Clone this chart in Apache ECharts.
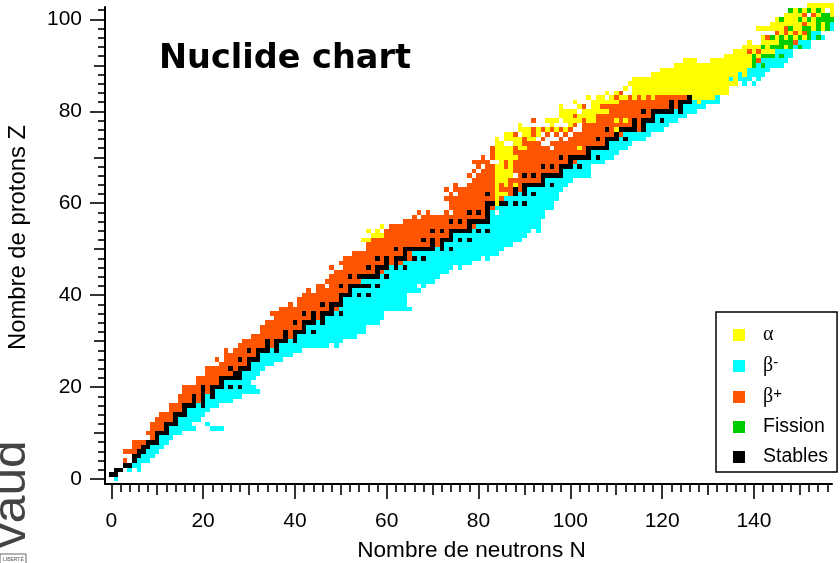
<!DOCTYPE html>
<html><head><meta charset="utf-8">
<style>html,body{margin:0;padding:0;background:#fff}#c{width:840px;height:563px}</style>
<script src="https://cdn.jsdelivr.net/npm/echarts@6/dist/echarts.min.js"></script>
</head><body><div id="c"></div>
<script>
// Each row: [Z, fromN, toN, fromN, toN, ...]
const betaPlus = [
[4,3,3],[6,3,5],[7,5,6],[8,5,7],[9,9,9],[10,8,9],[11,9,11],[12,9,11],[13,10,13],[14,11,13],[15,13,15],[16,13,15],[17,15,19],[18,15,19],[19,16,21],[20,16,21],
[21,19,23],[22,19,23],[23,21,26],[24,21,27],[25,24,29],[26,23,23,25,29],[27,25,31],[28,25,25,27,31],[29,28,35],[30,29,35],[31,31,39],[32,33,39],[33,33,41],[34,34,41],[35,36,45],[36,35,45],
[37,37,49],[38,39,39,41,47],[39,41,49],[40,42,49],[41,43,43,45,51],[42,45,46,48,51],[43,47,54],[44,48,53],[45,49,59],[46,48,48,51,57],[47,50,63],[48,51,65],[49,53,65],[50,56,63],
[51,56,71],[52,57,71],[53,60,73],[54,60,73],[55,61,79],[56,64,77],[57,66,66,68,81],[58,67,67,69,69,73,73,75,81],[59,74,83],[60,74,81],[61,73,83,85,85],[62,74,74,76,83,87,87],
[63,73,73,75,83,85,87,89,89],[64,75,75,78,83,85,85,87,87,89,89],[65,79,83,87,93],[66,78,78,80,83,89,93],[67,79,79,81,83,88,97],[68,80,80,82,83,86,86,88,99],[69,79,82,86,86,88,101],
[70,81,81,83,83,89,99],[71,83,83,88,103],[72,83,83,88,88,91,95,97,101,103,103],[73,90,93,96,108],[74,90,90,94,94,98,98,100,107],[75,88,88,92,92,95,95,97,97,99,99,101,111],
[76,92,92,94,94,96,96,98,98,100,100,103,109,111,115],[77,101,101,103,115],[78,92,92,103,103,106,109,111,111,113,115,117,117],[79,101,101,106,117],[80,109,117],[81,103,103,107,123],[82,111,123],
[83,110,110,113,113,115,115,117,117,119,125],[84,111,111],[91,141,141],[93,139,139,141,141],[95,149,149],[96,143,143],[97,145,145,147,147,149,149,151,151],[98,147,147],[99,151,151],[101,151,151,153,153]
];
const betaMinus = [
[0,1,1],[2,4,4,6,6],[3,5,6],[4,6,8],[5,7,9],[6,8,10],[7,9,11],[8,11,12],[9,11,13],[10,13,15],[11,13,18,22,24],[12,15,17,21,21],[13,15,19],[14,17,20],[15,17,21],[16,19,19,21,23],
[17,21,26],[18,21,21,23,28],[19,23,32],[20,25,25,27,27,29,31],[21,25,30],[22,29,31],[23,29,32],[24,31,33],[25,31,35],[26,33,37],[27,33,39],[28,35,35,37,41],[29,37,47,49,49],[30,39,39,41,50],
[31,41,53],[32,43,43,45,55],[33,43,55],[34,45,45,47,58],[35,47,59],[36,49,49,51,59],[37,50,65],[38,51,64],[39,51,64],[40,53,64],[41,53,67],[42,57,57,59,66,68,68],[43,55,70],[44,59,59,61,71],
[45,60,73],[46,61,61,63,63,65,74,76,76],[47,64,78],[48,67,67,69,80,82,82],[49,66,84],[50,71,71,73,73,75,85],[51,73,87],[52,75,75,77,77,79,89],[53,75,90],[54,79,79,81,81,83,91,93,93],[55,80,93],
[56,83,93],[57,83,94],[58,83,83,85,94],[59,84,96],[60,87,87,89,89,91,96],[61,86,97],[62,89,89,91,91,93,97],[63,91,98],[64,95,95,97,99],[65,95,100],[66,99,104],[67,99,104],[68,101,101,103,104],
[69,102,107],[70,105,105,107,109],[71,105,110],[72,109,112],[73,109,113],[74,111,111,113,116],[75,112,117],[76,117,120],[77,117,121],[78,119,119,121,123],[79,119,125],[80,123,123,125,127],
[81,125,129],[82,127,127,129,132],[83,132,132],[86,138,138,140,140],[87,135,135,137,139,141,141],[88,137,137,139,142],[89,139,143],[90,141,141,143,146],[91,142,147],[92,145,145,147,148],
[93,145,148],[94,149,149,151,152],[95,150,152],[96,153,153,155,155],[97,153,154],[98,157,157],[99,157,157]
];
const alpha = [
[52,55,56],[53,57,59],[54,56,56,58,58],[55,59,59],[60,84,84],[61,84,84],[62,84,86],[63,84,84],[64,84,84,86,86,88,88],[65,84,86],[66,84,87],[67,84,87],[68,84,85,87,87],[69,85,85,87,87],
[70,84,88],[71,84,87],[72,84,87,89,90,102,102],[73,84,85,88,89],[74,84,84,86,89,91,92],[75,86,87,90,91,93,93],[76,89,91,93,93,95,95,97,97,99,99,110,110],[77,89,89,96,96,100,100],
[78,95,97,99,102,104,105,110,110,112,112],[79,98,100,102,105],[80,98,101,103,108],[81,98,98,102,102,105,106],[82,101,101,105,110,128,128],[83,104,104,106,107,109,109,111,112,114,114,116,116,118,118,127,131],
[84,108,108,110,110,114,134],[85,112,112,114,134],[86,113,136],[87,114,134,136,136],[88,118,136,138,138],[89,120,138],[90,123,139],[91,125,127,131,139],[92,134,139,141,141],
[93,136,138,140,140,142,144],[94,138,141,143,143,147,147],[95,139,139,142,145],[96,142,142,145,145,147,147,149,149,151,151],[97,146,146,148,148,150,150],[98,141,146,149,150,153,153,155,155],
[99,144,150,152,153,155,155],[100,145,145,147,149,151,151,153,153],[101,147,150,154,154,157,157],[102,149,149,151,151,153,153,155,155,157,157],[103,152,157]
];
const fission = [
[90,140,140,142,142],[91,140,140],[92,140,140,142,144,146,146],[94,142,142,144,146,148,148,150,150],[95,146,148],[96,144,144,146,146,148,148,150,150,152,152,154,154],[97,152,152],
[98,148,148,151,152,154,154,156,156],[99,154,154,156,156],[100,146,146,150,150,152,152,154,157],[101,155,156],[102,148,148,150,150,152,152,154,154]
];
const stables = [
[1,0,1],[2,1,2],[3,3,4],[4,5,5],[5,5,6],[6,6,7],[7,7,8],[8,8,10],[9,10,10],[10,10,12],[11,12,12],[12,12,14],[13,14,14],[14,14,16],[15,16,16],[16,16,18,20,20],[17,18,18,20,20],[18,18,18,20,20,22,22],
[19,20,20,22,22],[20,20,20,22,24,26,26,28,28],[21,24,24],[22,24,28],[23,27,28],[24,26,26,28,30],[25,30,30],[26,28,28,30,32],[27,32,32],[28,30,30,32,34,36,36],[29,34,34,36,36],[30,34,34,36,38,40,40],
[31,38,38,40,40],[32,38,38,40,42,44,44],[33,42,42],[34,40,40,42,44,46,46],[35,44,44,46,46],[36,42,42,44,44,46,48,50,50],[37,48,48],[38,46,46,48,50],[39,50,50],[40,50,52,54,54,56,56],[41,52,52],
[42,50,50,52,56,58,58],[44,52,52,54,58,60,60],[45,58,58],[46,56,56,58,60,62,62,64,64],[47,60,60,62,62],[48,58,58,60,60,62,64,66,66,68,68],[49,64,64],[50,62,62,64,70,72,72,74,74],[51,70,70,72,72],
[52,68,68,70,70,72,74,76,76,78,78],[53,74,74],[54,70,70,72,72,74,78,80,80,82,82],[55,78,78],[56,74,74,76,76,78,82],[57,82,82],[58,78,78,80,80,82,82],[59,82,82],[60,82,83,85,86,88,88,90,90],
[62,82,82,88,88,90,90,92,92],[63,88,88,90,90],[64,90,94,96,96],[65,94,94],[66,90,90,92,92,94,98],[67,98,98],[68,94,94,96,96,98,100,102,102],[69,100,100],[70,98,98,100,104,106,106],[71,104,104],
[72,104,108],[73,108,108],[74,106,106,108,110,112,112],[75,110,110],[76,108,108,111,114,116,116],[77,114,114,116,116],[78,114,114,116,118,120,120],[79,118,118],[80,116,116,118,122,124,124],
[81,122,122,124,124],[82,122,122,124,126],[83,126,126]
];
const xMajor = [0,20,40,60,80,100,120,140];
const xMiddle = [10,30,50,70,90,110,130,150];
const xMinor = [2,4,6,8,12,14,16,18,22,24,26,28,32,34,36,38,42,44,46,48,52,54,56,58,62,64,66,68,72,74,76,78,82,84,86,88,92,94,96,98,102,104,106,108,112,114,116,118,122,124,126,128,132,134,136,138,142,144,146,148,152,154,156];
const yMajor = [0,20,40,60,80,100];
const yMiddle = [10,30,50,70,90];
const yMinor = [2,4,6,8,12,14,16,18,22,24,26,28,32,34,36,38,42,44,46,48,52,54,56,58,62,64,66,68,72,74,76,78,82,84,86,88,92,94,96,98,102];
const xRange = [-1.37,157], yRange = [-1.09,102.7];

function runs(rows){const o=[];rows.forEach(r=>{for(let i=1;i<r.length;i+=2)o.push([r[i],r[i+1],r[0]]);});return o;}
function renderItem(p,api){
  const a=api.coord([api.value(0)-.5,api.value(2)+.5]),b=api.coord([api.value(1)+.5,api.value(2)-.5]);
  const x=Math.round(a[0]),y=Math.round(a[1]);
  return {type:'rect',shape:{x:x,y:y,width:Math.round(b[0])-x,height:Math.round(b[1])-y},style:{fill:api.visual('color')}};
}
function ser(name,rows,color,z){return {name:name,type:'custom',renderItem:renderItem,data:runs(rows),encode:{x:[0,1],y:2},itemStyle:{color:color},z:z,animation:false,silent:true,clip:false};}
const font='"Liberation Sans",Arial,sans-serif';
function axis(pos,rng,vals,len,extra){return Object.assign({type:'value',position:pos,min:rng[0],max:rng[1],splitLine:{show:false},
  axisLine:{show:false,onZero:false},axisLabel:{show:false},axisTick:{show:true,inside:false,length:len,customValues:vals,lineStyle:{color:'#000',width:1.6}}},extra||{});}
const axLine={show:true,onZero:false,lineStyle:{color:'#000',width:2}};
const lab=(vals,m)=>({show:true,customValues:vals,margin:m,color:'#000',fontSize:21,fontFamily:font});
const chart=echarts.init(document.getElementById('c'),null,{renderer:'canvas'});
chart.setOption({
  animation:false,backgroundColor:'#fff',
  grid:{left:105,right:8,top:7,bottom:79,containLabel:false,outerBoundsMode:'none'},
  title:{text:'Nuclide chart',left:159,top:42,padding:0,textStyle:{fontFamily:'"DejaVu Sans"',fontWeight:'bold',fontSize:33.5,color:'#000'}},
  xAxis:[
    axis('bottom',xRange,xMajor,15,{axisLine:axLine,axisLabel:lab(xMajor,27),name:'Nombre de neutrons N',nameLocation:'middle',nameGap:55,nameMoveOverlap:false,nameTextStyle:{fontSize:22.6,fontFamily:font,color:'#000',padding:[0,0,0,6]}}),
    axis('bottom',xRange,xMiddle,11),
    axis('bottom',xRange,xMinor,8)
  ],
  yAxis:[
    axis('left',yRange,yMajor,15,{axisLine:axLine,axisLabel:lab(yMajor,23),name:'Nombre de protons Z',nameLocation:'middle',nameGap:59,nameMoveOverlap:false,nameTextStyle:{fontSize:23.8,fontFamily:font,color:'#000',padding:[0,0,16,16]}}),
    axis('left',yRange,yMiddle,11),
    axis('left',yRange,yMinor,7)
  ],
  legend:{show:true,selectedMode:false,orient:'vertical',left:716,top:312,padding:[13,9,5,17],itemGap:10,itemWidth:12,itemHeight:12,icon:'rect',
    borderColor:'#000',borderWidth:1.5,backgroundColor:'#fff',z:20,
    data:['a','bm','bp','Fission','Stables'],
    formatter:function(n){return {a:'{g|α}',bm:'{g|β}{s|-}',bp:'{g|β}{s|+}'}[n]||'{t|'+n+'}';},
    textStyle:{color:'#000',padding:[0,0,0,13],rich:{
      g:{fontFamily:'"Liberation Serif",serif',fontSize:20,lineHeight:22,color:'#000'},
      s:{fontFamily:font,fontSize:15,lineHeight:22,verticalAlign:'top',color:'#000'},
      t:{fontFamily:font,fontSize:19.5,lineHeight:22,color:'#000'}}}},
  series:[ser('a',alpha,'#FFFF00',3),ser('bm',betaMinus,'#00FFFF',2),ser('bp',betaPlus,'#FF5500',2),ser('Fission',fission,'#00CC00',4),ser('Stables',stables,'#000000',5)],
  graphic:[
    {type:'text',rotation:Math.PI/2,x:-11,y:548,scaleX:1.08,style:{text:'vaud',font:'46px "Liberation Sans"',fill:'#444'}},
    {type:'rect',shape:{x:0,y:554,width:26,height:12},style:{fill:'#fff',stroke:'#666',lineWidth:1}},
    {type:'text',x:3,y:557,style:{text:'LIBERTÉ',font:'5px "Liberation Sans"',fill:'#555'}}
  ]
});
</script></body></html>
